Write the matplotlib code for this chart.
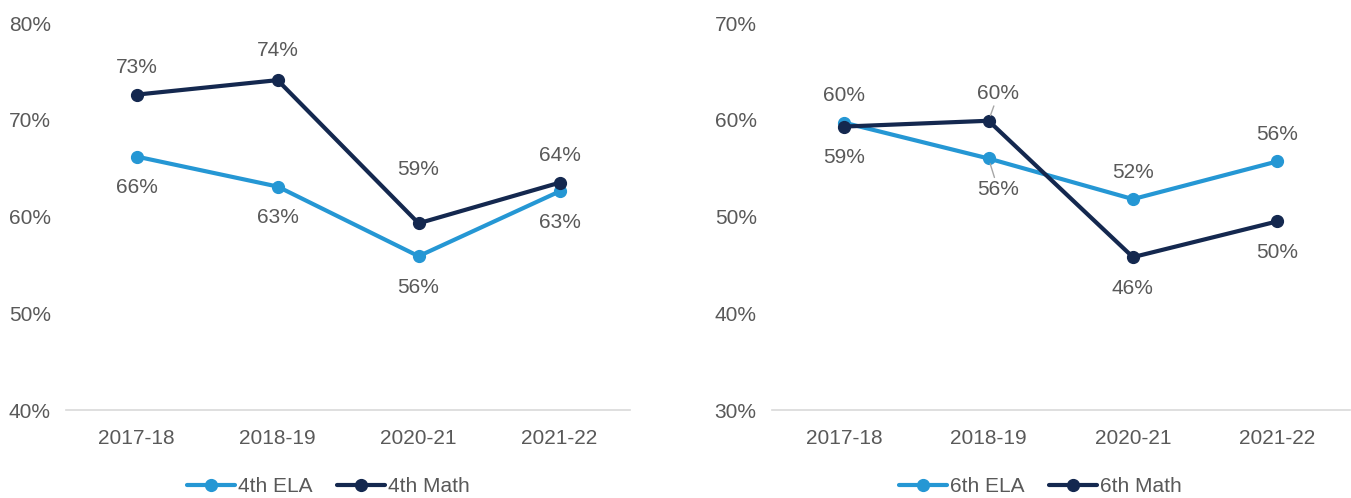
import matplotlib.pyplot as plt
import numpy as np

plt.rcParams['font.family'] = ['Liberation Sans', 'DejaVu Sans']

years = ["2017-18", "2018-19", "2020-21", "2021-22"]

ela_4th = [66.2, 63.1, 55.9, 62.6]
math_4th = [72.6, 74.1, 59.3, 63.5]
ela_6th = [59.7, 56.0, 51.8, 55.7]
math_6th = [59.3, 59.9, 45.8, 49.5]

# label placement: positive above the point, negative below (scaled distance)
ela_4th_side = [-1, -1, -1, -1]
math_4th_side = [1, 1.1, 2.0, 1]
ela_6th_side = [1, -1, 1, 1]
math_6th_side = [-1, 1, -1, -1]

light_blue = "#2597D4"
navy = "#14284F"
grey_text = "#595959"
fs = 15

fig = plt.figure(figsize=(13.51, 4.98), dpi=100)
ax1 = fig.add_axes([0.0489, 0.1767, 0.4175, 0.777])
ax2 = fig.add_axes([0.5714, 0.1767, 0.4275, 0.777])


def label_offset(s):
    return 19.5 * s if s > 0 else 22.5 * s


def draw_panel(ax, series, names, sides, ylim, leader=()):
    x = np.arange(len(years))
    for vals, name, color, side in zip(series, names, [light_blue, navy], sides):
        ax.plot(x, vals, color=color, lw=3, marker="o", ms=8.5, label=name,
                solid_capstyle="round", zorder=3)
        for i, v in enumerate(vals):
            lbl = f"{round(v):.0f}%"
            if (name, i) in leader:
                ax.annotate(lbl, xy=(i, v), xytext=(7, label_offset(side[i])),
                            textcoords="offset points", ha="center", va="center",
                            fontsize=fs, color=grey_text,
                            arrowprops=dict(arrowstyle="-", color="#A6A6A6", lw=1,
                                            shrinkA=0, shrinkB=4))
            else:
                ax.annotate(lbl, xy=(i, v), xytext=(0, label_offset(side[i])),
                            textcoords="offset points", ha="center", va="center",
                            fontsize=fs, color=grey_text)
    ax.set_xlim(-0.5, len(years) - 0.5)
    ax.set_ylim(*ylim)
    ax.set_xticks(x)
    ax.set_xticklabels(years)
    yt = np.arange(ylim[0], ylim[1] + 1, 10)
    ax.set_yticks(yt)
    ax.set_yticklabels([f"{t}%" for t in yt])
    ax.tick_params(axis="both", length=0, labelsize=fs, labelcolor=grey_text)
    ax.tick_params(axis="x", pad=14)
    ax.tick_params(axis="y", pad=11)
    for s in ["top", "right", "left"]:
        ax.spines[s].set_visible(False)
    ax.spines["bottom"].set_color("#D9D9D9")
    ax.spines["bottom"].set_linewidth(1.2)
    ax.legend(loc="upper center", bbox_to_anchor=(0.465, -0.125), ncol=2, frameon=False,
              fontsize=fs, labelcolor=grey_text, handlelength=2.3, handletextpad=0.15,
              columnspacing=1.15)


draw_panel(ax1, [ela_4th, math_4th], ["4th ELA", "4th Math"],
           [ela_4th_side, math_4th_side], (40, 80))
draw_panel(ax2, [ela_6th, math_6th], ["6th ELA", "6th Math"],
           [ela_6th_side, math_6th_side], (30, 70),
           leader={("6th ELA", 1), ("6th Math", 1)})

fig.savefig("out.png", dpi=100)
